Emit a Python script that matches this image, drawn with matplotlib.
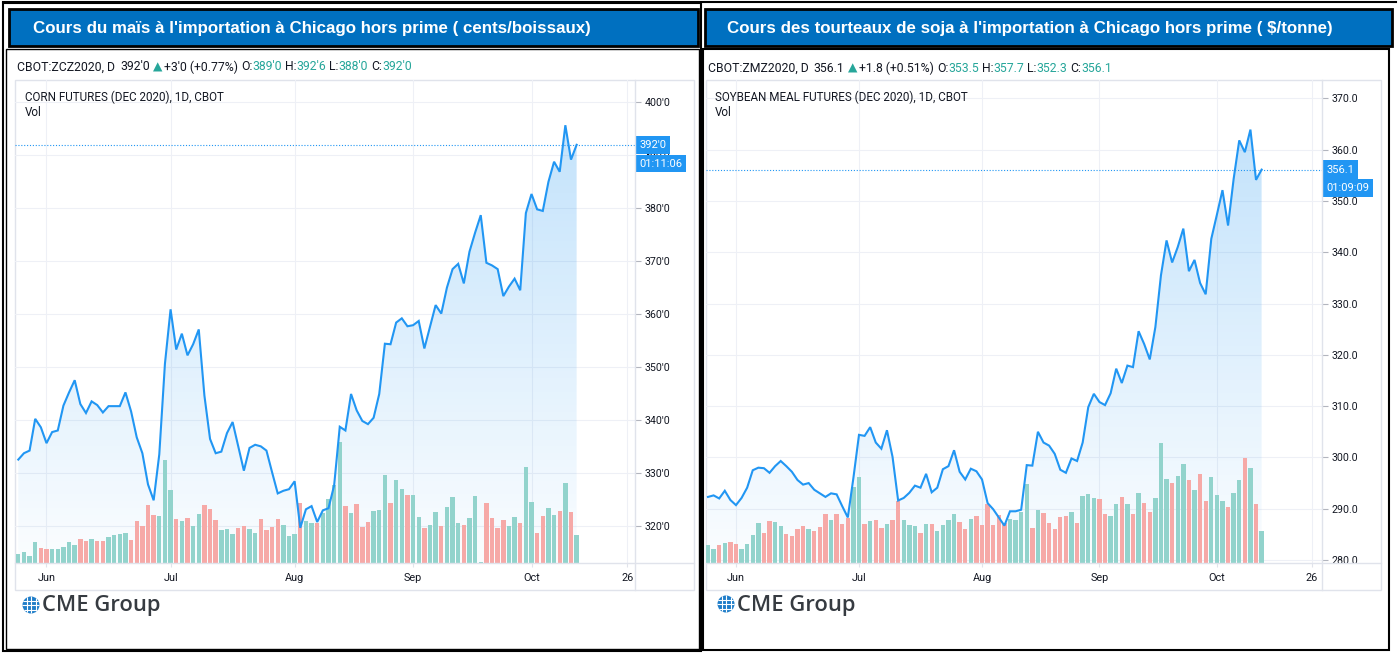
"""Corn / soybean meal futures charts (CME style), two panels side by side."""
import numpy as np
import matplotlib
matplotlib.use("Agg")
import matplotlib.pyplot as plt
from matplotlib.patches import Rectangle, Circle
from matplotlib.path import Path
from matplotlib.colors import LinearSegmentedColormap
from matplotlib.transforms import blended_transform_factory

W, H = 1399, 653

# ---- data (one point per trading day, 22 May -> 13 Oct 2020) ----
corn_close = [
    332.5, 333.7, 334.2, 340.2, 338.6, 335.6, 337.7, 338.0, 342.7, 345.2,
    347.5, 343.0, 341.3, 343.5, 342.8, 341.4, 342.6, 342.6, 342.6, 345.2,
    341.6, 336.7, 333.7, 327.8, 324.8, 333.5, 350.6, 360.9, 353.3, 356.3,
    352.2, 354.3, 357.1, 344.6, 336.4, 333.7, 334.0, 337.5, 339.6, 335.0,
    330.4, 334.7, 335.3, 335.0, 334.2, 330.1, 326.1, 326.6, 326.9, 328.4,
    319.6, 323.1, 323.7, 320.7, 322.9, 323.3, 327.6, 338.7, 338.0, 344.9,
    341.8, 339.8, 339.2, 340.4, 344.9, 354.4, 354.3, 358.4, 359.2, 357.7,
    357.9, 358.7, 353.5, 357.6, 361.7, 360.1, 365.0, 368.5, 369.5, 365.8,
    371.8, 375.4, 378.7, 369.7, 369.2, 368.5, 363.4, 365.2, 366.7, 364.5,
    379.1, 382.7, 379.8, 379.5, 385.0, 388.8, 386.9, 395.7, 389.2, 392.0,
]
corn_vol = [
    9, 11, 7, 21, 15, 14, 14, 14, 16, 21,
    18, 24, 22, 24, 22, 22, 26, 28, 29, 30,
    23, 42, 37, 58, 48, 47, 103, 73, 44, 42,
    45, 37, 49, 58, 54, 43, 33, 34, 29, 35,
    37, 34, 30, 44, 33, 36, 44, 38, 27, 29,
    60, 42, 40, 40, 50, 64, 78, 121, 57, 50,
    59, 36, 41, 52, 53, 88, 60, 83, 74, 68,
    68, 46, 35, 38, 51, 37, 56, 66, 40, 38,
    45, 67, 1, 60, 45, 35, 43, 37, 46, 40,
    96, 61, 30, 47, 55, 48, 52, 80, 51, 28,
]
soy_close = [
    292.3, 292.6, 292.0, 293.5, 291.7, 290.7, 292.1, 294.1, 297.5, 298.0,
    297.9, 297.0, 298.3, 299.3, 298.3, 297.2, 295.6, 294.7, 295.0, 293.7,
    293.0, 292.3, 293.0, 292.8, 290.5, 288.3, 296.0, 304.4, 304.2, 305.9,
    302.9, 301.7, 305.3, 300.1, 291.6, 292.1, 293.1, 294.5, 294.1, 296.8,
    293.2, 294.1, 297.7, 298.3, 301.4, 297.2, 295.7, 297.8, 297.3, 295.7,
    291.1, 289.9, 288.3, 286.7, 289.5, 289.5, 289.8, 298.5, 298.4, 305.0,
    302.9, 302.3, 300.7, 297.6, 297.0, 299.8, 299.3, 302.9, 309.8, 312.4,
    310.8, 310.2, 312.5, 317.3, 314.5, 317.9, 317.6, 324.6, 322.1, 319.1,
    325.4, 335.5, 342.3, 338.0, 341.0, 344.6, 336.3, 338.5, 334.0, 331.8,
    342.6, 347.3, 352.1, 345.2, 354.3, 361.8, 359.5, 363.9, 354.1, 356.1,
]
soy_vol = [
    18, 14, 18, 20, 21, 19, 14, 19, 28, 40,
    30, 42, 41, 37, 29, 27, 34, 37, 34, 32,
    36, 49, 43, 49, 39, 45, 76, 86, 39, 42,
    43, 35, 39, 43, 62, 43, 38, 37, 30, 39,
    39, 32, 38, 43, 49, 41, 34, 44, 47, 38,
    59, 38, 48, 40, 44, 43, 51, 79, 35, 53,
    50, 40, 34, 46, 47, 51, 40, 67, 69, 65,
    64, 49, 47, 59, 66, 59, 49, 70, 60, 51,
    65, 120, 84, 80, 87, 99, 83, 73, 89, 62,
    86, 68, 62, 56, 70, 83, 105, 95, 59, 32,
]
date_ticks = [5, 27, 49, 70, 91, 108]          # trading-day index of each label
date_labels = ["Jun", "Jul", "Aug", "Sep", "Oct", "26"]
corn_ticks = [320, 330, 340, 350, 360, 370, 380, 390, 400]
soy_ticks = [280, 290, 300, 310, 320, 330, 340, 350, 360, 370]

corn_title = "Cours du maïs à l'importation à Chicago hors prime ( cents/boissaux)"
soy_title = "Cours des tourteaux de soja à l'importation à Chicago hors prime ( \\$/tonne)"
corn_info = [("CBOT:ZCZ2020, D", "d", 5), ("392'0", "d", 3), ("▲", "g", 2), ("+3'0 (+0.77%)", "d", 3),
             ("O:", "d", 0), ("389'0", "g", 3), ("H:", "d", 0), ("392'6", "g", 3),
             ("L:", "d", 0), ("388'0", "g", 3), ("C:", "d", 0), ("392'0", "g", 0)]
soy_info = [("CBOT:ZMZ2020, D", "d", 5), ("356.1", "d", 3), ("▲", "g", 2), ("+1.8 (+0.51%)", "d", 3),
            ("O:", "d", 0), ("353.5", "g", 3), ("H:", "d", 0), ("357.7", "g", 3),
            ("L:", "d", 0), ("352.3", "g", 3), ("C:", "d", 0), ("356.1", "g", 0)]

BLUE = "#2196f3"
UP, DOWN = "#92d3cc", "#f6a9a7"
TXT = "#131722"
TEAL = "#26a69a"
GRID = "#eef0f6"
BORDER = "#e0e3eb"
FONT = ["Roboto", "DejaVu Sans"]

fig = plt.figure(figsize=(W / 100, H / 100), dpi=100)
fig.patch.set_facecolor("white")

bg = fig.add_axes([0, 0, 1, 1], zorder=0)
bg.set_xlim(0, W); bg.set_ylim(H, 0); bg.axis("off")
fg = fig.add_axes([0, 0, 1, 1], zorder=10)
fg.set_xlim(0, W); fg.set_ylim(H, 0); fg.axis("off")
fg.patch.set_alpha(0)


def px_rect(x0, y0, x1, y1):
    return [x0 / W, 1 - y1 / H, (x1 - x0) / W, (y1 - y0) / H]


def draw_segments(x, y, segments, size=8.8):
    r = fig.canvas.get_renderer()
    for s, c, gap in segments:
        t = fg.text(x, y, s, color=TEAL if c == "g" else TXT, fontsize=size,
                    va="center", ha="left", family=FONT)
        x += t.get_window_extent(renderer=r).width + gap


def draw_logo(x, y):
    g = Circle((x, y), 8.5, fc="#1f7dc9", ec="none")
    bg.add_patch(g)
    for d in (-4.5, 0, 4.5):
        ln, = bg.plot([x + d, x + d], [y - 9, y + 9], color="white", lw=0.8)
        ln.set_clip_path(g)
        ln, = bg.plot([x - 9, x + 9], [y + d, y + d], color="white", lw=0.8)
        ln.set_clip_path(g)
    bg.text(x + 11, y + 1, "CME Group", fontsize=15.8, color="#363b41", fontweight="semibold",
            va="center", ha="left", family=["Open Sans", "DejaVu Sans"])


def draw_panel(close, vol, pticks, fmt, pane, axis_x, xlim, ylim, last_lbl, countdown):
    x0, y0, x1, y1 = pane
    x_axis_y = 563
    # pane frame, price-axis and time-axis separators
    bg.add_patch(Rectangle((x0, y0), x1 - x0, y1 - y0, fc="white", ec=BORDER, lw=1))
    fg.plot([axis_x, axis_x], [y0, y1], color=BORDER, lw=1)
    fg.plot([x0, x1], [x_axis_y, x_axis_y], color=BORDER, lw=1)

    ax = fig.add_axes(px_rect(x0, y0, axis_x, x_axis_y), zorder=2)
    ax.patch.set_alpha(0)
    idx = np.arange(len(close))
    ymin, ymax = ylim

    for t in pticks:
        ax.axhline(t, color=GRID, lw=0.8, zorder=0)
    for t in date_ticks:
        ax.axvline(t, color=GRID, lw=0.8, zorder=0)

    # gradient area under the price line
    poly = ax.fill_between(idx, close, ymin, color="none", lw=0)
    cmap = LinearSegmentedColormap.from_list(
        "area", [(0.13, 0.59, 0.95, 0.02), (0.13, 0.59, 0.95, 0.27)])
    grad = np.linspace(0, 1, 256).reshape(-1, 1)
    im = ax.imshow(grad, extent=[idx[0], idx[-1], ymin, max(close)], origin="lower",
                   cmap=cmap, aspect="auto", zorder=1, interpolation="bicubic")
    im.set_clip_path(Path(poly.get_paths()[0].vertices), transform=ax.transData)

    # volume bars in the lower part of the pane (height in pane pixels)
    vol_scale = (ymax - ymin) / (x_axis_y - y0)
    ups = [True] + [close[i] >= close[i - 1] for i in range(1, len(close))]
    ax.bar(idx, np.array(vol) * vol_scale, bottom=ymin, width=0.78,
           color=[UP if u else DOWN for u in ups], zorder=2)

    ax.plot(idx, close, color=BLUE, lw=1.5, zorder=3, solid_joinstyle="miter")
    ax.axhline(close[-1], color=BLUE, lw=0.8, ls=(0, (1, 1.6)), zorder=3)

    ax.set_xlim(*xlim); ax.set_ylim(*ylim)
    for s in ax.spines.values():
        s.set_visible(False)
    ax.yaxis.tick_right()
    ax.set_yticks(pticks)
    ax.set_yticklabels([fmt(t) for t in pticks])
    ax.set_xticks(date_ticks)
    ax.set_xticklabels(date_labels)
    ax.tick_params(axis="y", length=4, width=0.8, color="#b2b5be", pad=3,
                   labelsize=7.7, labelcolor=TXT)
    ax.tick_params(axis="x", length=3, width=0.8, color=BORDER, pad=4,
                   labelsize=7.8, labelcolor=TXT)
    for lab in ax.get_xticklabels() + ax.get_yticklabels():
        lab.set_family(FONT)

    blend = blended_transform_factory(ax.transAxes, ax.transData)
    ax.annotate(last_lbl, xy=(1, close[-1]), xycoords=blend, xytext=(3, 0),
                textcoords="offset points", va="center", ha="left", fontsize=8,
                color="white", family=FONT, annotation_clip=False, zorder=6,
                bbox=dict(boxstyle="square,pad=0.38", fc=BLUE, ec="none"))
    ax.annotate(countdown, xy=(1, close[-1]), xycoords=blend, xytext=(3, -13.5),
                textcoords="offset points", va="center", ha="left", fontsize=8,
                color="white", family=FONT, annotation_clip=False, zorder=6,
                bbox=dict(boxstyle="square,pad=0.35", fc=BLUE, ec="none"))
    return ax


# ---- outer frame and blue headers ----
for (hx0, hx1, title, tx) in [(9, 698, corn_title, 33), (705, 1392, soy_title, 727)]:
    bg.add_patch(Rectangle((hx0, 9), hx1 - hx0, 37, fc="#0070c0", ec="black", lw=2))
    bg.text(tx, 28, title, color="white", fontsize=12.2, fontweight="bold",
            va="center", ha="left", family=["Liberation Sans", "DejaVu Sans"])
bg.add_patch(Rectangle((3, 3), 698, 648, fc="none", ec="black", lw=1.5))
bg.add_patch(Rectangle((6, 49), 693, 600, fc="none", ec="black", lw=1))
bg.add_patch(Rectangle((703, 49), 686, 601, fc="none", ec="black", lw=1.5))
bg.plot([3, 1396], [2, 2], color="black", lw=1.5)

draw_panel(corn_close, corn_vol, corn_ticks, lambda v: f"{v}'0", (15, 80, 694, 590), 635,
           (-0.585, 109.35), (312.95, 404.25), "392'0", "01:11:06")
draw_panel(soy_close, soy_vol, soy_ticks, lambda v: f"{v:.1f}", (706, 80, 1381, 590), 1322,
           (-0.36, 109.8), (279.42, 373.57), "356.1", "01:09:09")

draw_segments(17, 67, corn_info)
draw_segments(708, 68, soy_info)
for lx, name in [(25, "CORN FUTURES (DEC 2020), 1D, CBOT"), (715, "SOYBEAN MEAL FUTURES (DEC 2020), 1D, CBOT")]:
    fg.text(lx, 97, name, fontsize=8.4, color=TXT, va="center", ha="left", family=FONT)
    fg.text(lx, 112, "Vol", fontsize=8.4, color=TXT, va="center", ha="left", family=FONT)

draw_logo(31, 605)
draw_logo(726, 604)

fig.savefig("out.png", dpi=100)
